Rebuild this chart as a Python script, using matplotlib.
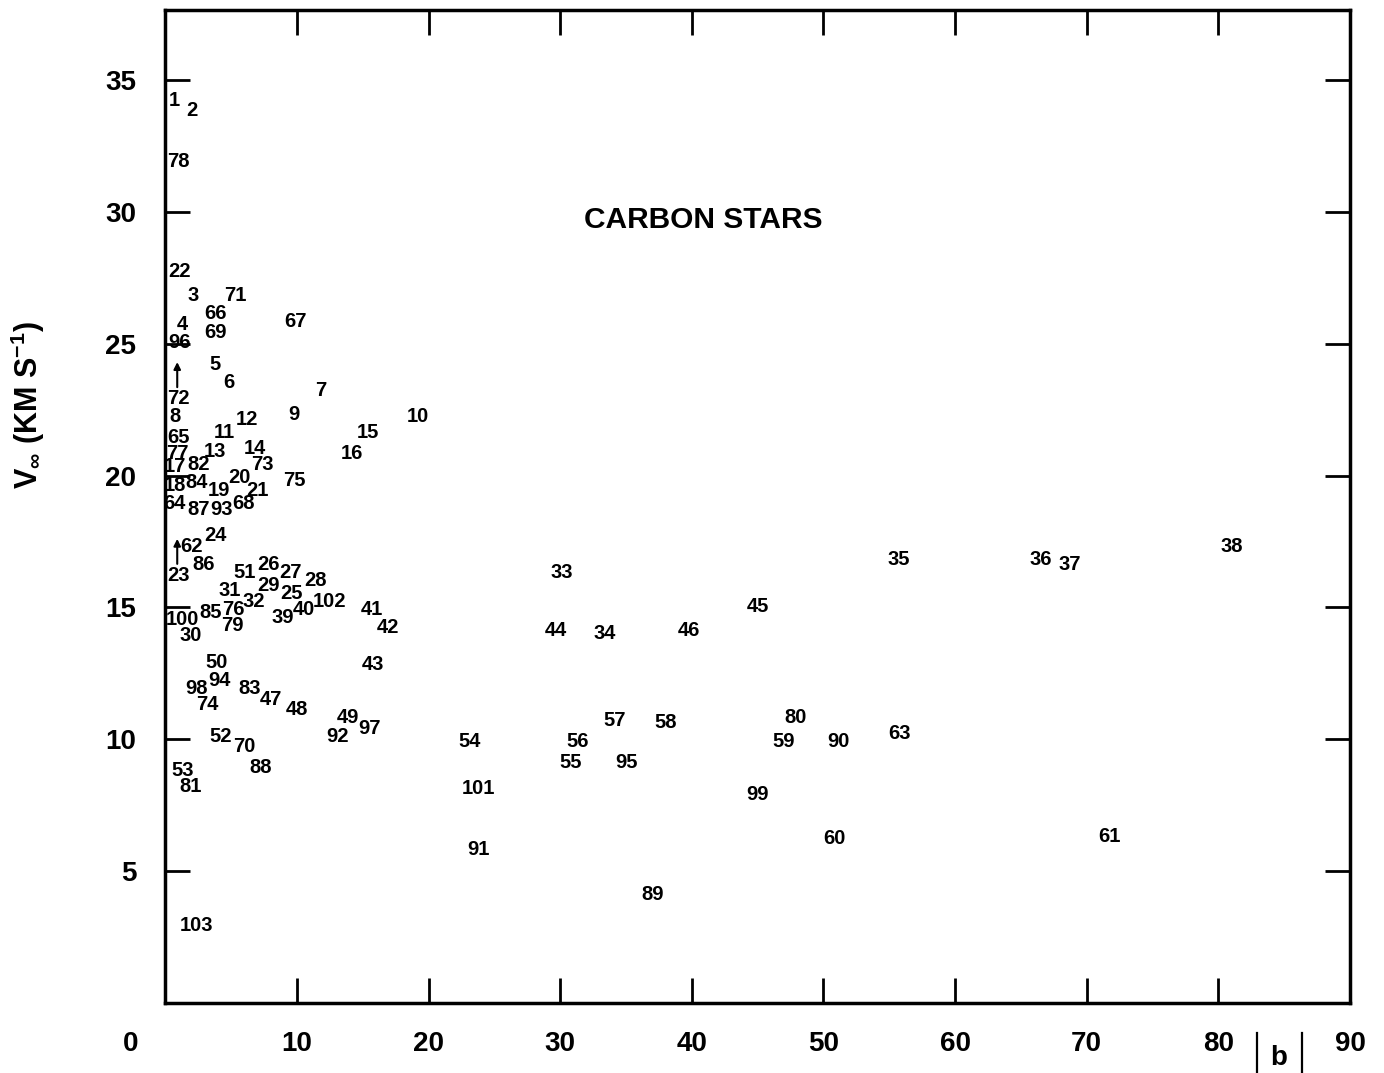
import matplotlib
matplotlib.use("Agg")
import matplotlib.pyplot as plt
import matplotlib.transforms as mtransforms
from matplotlib.lines import Line2D

plt.rcParams['font.family'] = ['Liberation Sans', 'DejaVu Sans']
plt.rcParams['mathtext.fontset'] = 'custom'
plt.rcParams['mathtext.rm'] = 'Liberation Sans:bold'
plt.rcParams['mathtext.it'] = 'Liberation Sans:bold'
plt.rcParams['mathtext.bf'] = 'Liberation Sans:bold'

# star number, galactic latitude |b|, terminal velocity V_inf
star_ids = [1, 2, 78, 22, 3, 71, 66, 4, 67, 69, 96, 5, 6, 7, 72, 8, 12, 9, 10, 11,
            65, 15, 13, 14, 16, 77, 17, 82, 73, 20, 75, 18, 84, 19, 21, 64, 87, 93, 68, 24,
            62, 86, 23, 51, 26, 27, 28, 31, 29, 25, 32, 102, 85, 76, 41, 100, 39, 40, 79, 42,
            30, 50, 43, 94, 98, 83, 47, 74, 48, 49, 97, 92, 52, 70, 53, 88, 81, 103, 33, 35,
            36, 37, 38, 44, 34, 46, 45, 54, 57, 58, 56, 55, 95, 80, 59, 90, 63, 101, 99, 60,
            61, 91, 89]
b_abs = [0.7, 2.0, 1.0, 1.1, 2.1, 5.3, 3.8, 1.3, 9.9, 3.8, 1.1, 3.8, 4.8, 11.8, 1.0, 0.7, 6.2, 9.8, 19.2, 4.5,
         1.0, 15.4, 3.8, 6.8, 14.2, 0.9, 0.7, 2.5, 7.4, 5.6, 9.8, 0.7, 2.4, 4.1, 7.0, 0.7, 2.5, 4.3, 5.9, 3.8,
         2.0, 2.9, 1.0, 6.0, 7.8, 9.5, 11.4, 4.9, 7.8, 9.6, 6.7, 12.5, 3.4, 5.2, 15.7, 1.3, 8.9, 10.5, 5.1, 16.9,
         1.9, 3.9, 15.8, 4.1, 2.4, 6.4, 8.0, 3.2, 10.0, 13.9, 15.5, 13.1, 4.2, 6.0, 1.3, 7.2, 1.9, 2.4, 30.1, 55.7,
         66.5, 68.7, 81.0, 29.7, 33.4, 39.8, 45.0, 23.1, 34.1, 38.0, 31.3, 30.8, 35.0, 47.9, 47.0, 51.1, 55.8, 23.8, 45.0, 50.8,
         71.7, 23.8, 37.0]
v_inf = [34.3, 33.9, 32.0, 27.8, 26.9, 26.9, 26.2, 25.8, 25.9, 25.5, 25.1, 24.3, 23.6, 23.3, 23.0, 22.3, 22.2, 22.4, 22.3, 21.7,
         21.5, 21.7, 21.0, 21.1, 20.9, 20.9, 20.4, 20.5, 20.5, 20.0, 19.9, 19.7, 19.8, 19.5, 19.5, 19.0, 18.8, 18.8, 19.0, 17.8,
         17.4, 16.7, 16.3, 16.4, 16.7, 16.4, 16.1, 15.7, 15.9, 15.6, 15.3, 15.3, 14.9, 15.0, 15.0, 14.6, 14.7, 15.0, 14.4, 14.3,
         14.0, 13.0, 12.9, 12.3, 12.0, 12.0, 11.6, 11.4, 11.2, 10.9, 10.5, 10.2, 10.2, 9.8, 8.9, 9.0, 8.3, 3.0, 16.4, 16.9,
         16.9, 16.7, 17.4, 14.2, 14.1, 14.2, 15.1, 10.0, 10.8, 10.7, 10.0, 9.2, 9.2, 10.9, 10.0, 10.0, 10.3, 8.2, 8.0, 6.3,
         6.4, 5.9, 4.2]
lower_limit_ids = [72, 23]   # marked with an upward arrow

x_ticks = [0, 10, 20, 30, 40, 50, 60, 70, 80, 90]
y_ticks = [5, 10, 15, 20, 25, 30, 35]

fig = plt.figure(figsize=(13.84, 10.73), dpi=100)
ax = fig.add_axes([0.1195, 0.0652, 0.8559, 0.9255])

for sid, bx, vy in zip(star_ids, b_abs, v_inf):
    ax.text(bx, vy, str(sid), ha='center', va='center_baseline', fontsize=14.5,
            fontweight='bold', color='black')
    if sid in lower_limit_ids:
        ax.annotate('', xy=(bx - 0.1, vy + 1.3), xytext=(bx - 0.1, vy + 0.35),
                    arrowprops=dict(arrowstyle='-|>', lw=1.5, color='black',
                                    mutation_scale=10, shrinkA=0, shrinkB=0))

ax.text(40.9, 29.7, 'CARBON STARS', ha='center', va='center', fontsize=21.5,
        fontweight='bold')

ax.set_xlim(0, 90)
ax.set_ylim(0, 37.65)
ax.set_xticks(x_ticks)
ax.set_yticks(y_ticks)
ax.set_xticklabels([str(t) for t in x_ticks])
ax.set_yticklabels([str(t) for t in y_ticks])

ax.tick_params(direction='in', length=18, width=2, top=True, right=True,
               labelsize=20, pad=21)
ax.tick_params(axis='x', pad=20)
for lab in ax.get_xticklabels() + ax.get_yticklabels():
    lab.set_fontweight('bold')
# shift the "0" label to the left of the corner
zero_lab = ax.get_xticklabels()[0]
zero_lab.set_transform(zero_lab.get_transform() +
                       mtransforms.ScaledTranslation(-0.35, 0, fig.dpi_scale_trans))
# hide tick marks at 0 and 90 on the x axis
for i in (0, -1):
    ax.xaxis.get_major_ticks()[i].tick1line.set_visible(False)
    ax.xaxis.get_major_ticks()[i].tick2line.set_visible(False)

for sp in ax.spines.values():
    sp.set_linewidth(2.5)

ax.set_ylabel(r'V$_{\infty}$ (KM S$^{-1}$)', fontsize=22, fontweight='bold')
ax.yaxis.set_label_coords(-0.100, 0.602)

# |b| axis label
fig.text(1279 / 1384, 1 - 1058 / 1073, 'b', ha='center', va='center',
         fontsize=20, fontweight='bold')
for xb in (1257 / 1384, 1302 / 1384):
    fig.add_artist(Line2D([xb, xb], [1 - 1033 / 1073, 0.0], color='black',
                          lw=1.6, transform=fig.transFigure))

fig.savefig('out.png', dpi=100)
